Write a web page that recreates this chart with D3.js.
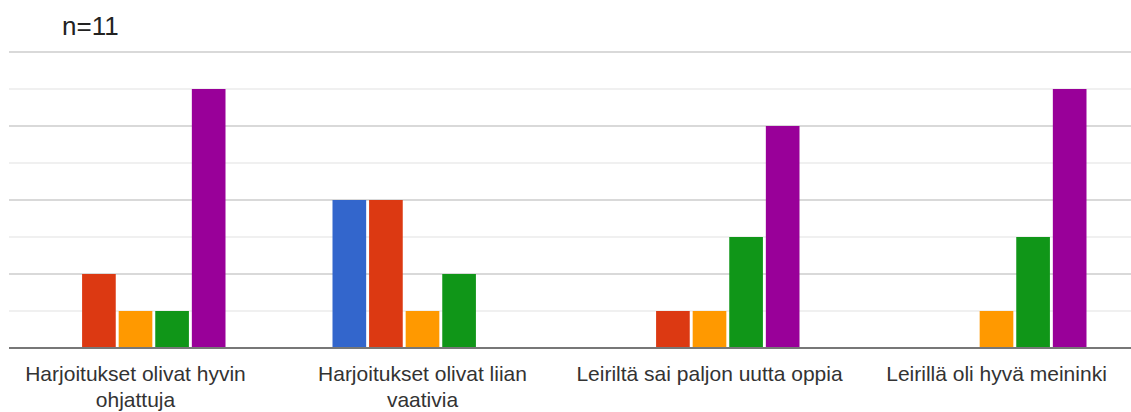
<!DOCTYPE html>
<html>
<head>
<meta charset="utf-8">
<script src="https://cdn.jsdelivr.net/npm/d3@7"></script>
<style>
  body { margin: 0; background: #fff; }
  svg { display: block; font-family: Arial, "Liberation Sans", sans-serif; }
</style>
</head>
<body>
<div id="chart"></div>
<script>
const categories = [
  ["Harjoitukset olivat hyvin", "ohjattuja"],
  ["Harjoitukset olivat liian", "vaativia"],
  ["Leiriltä sai paljon uutta oppia"],
  ["Leirillä oli hyvä meininki"],
];
const seriesNames = ["s1", "s2", "s3", "s4", "s5"];
const seriesColors = ["#3366cc", "#dc3912", "#ff9900", "#109618", "#990099"];
// values per category, in series order
const values = [
  [0, 2, 1, 1, 7],
  [4, 4, 1, 2, 0],
  [0, 1, 1, 3, 6],
  [0, 0, 1, 3, 7],
];
const gridTicks = [1, 2, 3, 4, 5, 6, 7, 8];
const title = "n=11";

const width = 1131;
const height = 412;
const baseline = 348;
const plotTop = 52;

const svg = d3.select("#chart").append("svg")
  .attr("width", width)
  .attr("height", height);

const y = d3.scaleLinear().domain([0, 8]).range([baseline, plotTop]);

const x0 = d3.scaleBand()
  .domain(d3.range(categories.length))
  .range([-8, 1140]);

const groupW = 180;
const x1 = d3.scaleBand()
  .domain(seriesNames)
  .range([(x0.bandwidth() - groupW) / 2, (x0.bandwidth() + groupW) / 2])
  .paddingInner(0.08);

// gridlines
svg.append("g")
  .selectAll("line")
  .data(gridTicks)
  .join("line")
  .attr("x1", 9)
  .attr("x2", width)
  .attr("y1", (d) => y(d))
  .attr("y2", (d) => y(d))
  .attr("stroke", (d) => (d % 2 === 0 ? "#cccccc" : "#ebebeb"))
  .attr("stroke-width", 1.5);

// bars
const groups = svg.append("g")
  .selectAll("g")
  .data(values)
  .join("g")
  .attr("transform", (_d, i) => `translate(${x0(i)},0)`);

groups.selectAll("rect")
  .data((d) => d.map((v, i) => ({ key: seriesNames[i], v, c: seriesColors[i] })))
  .join("rect")
  .attr("x", (d) => x1(d.key))
  .attr("width", x1.bandwidth())
  .attr("y", (d) => y(d.v))
  .attr("height", (d) => baseline - y(d.v))
  .attr("fill", (d) => d.c);

// baseline
svg.append("line")
  .attr("x1", 9)
  .attr("x2", width)
  .attr("y1", baseline)
  .attr("y2", baseline)
  .attr("stroke", "#777")
  .attr("stroke-width", 2);

// category labels
const labels = svg.append("g")
  .selectAll("text")
  .data(categories)
  .join("text")
  .attr("x", (_d, i) => x0(i) + x0.bandwidth() / 2)
  .attr("y", 381)
  .attr("text-anchor", "middle")
  .attr("font-size", 21)
  .attr("fill", "#333");

labels.selectAll("tspan")
  .data((d) => d)
  .join("tspan")
  .attr("x", function () { return d3.select(this.parentNode).attr("x"); })
  .attr("dy", (_d, i) => (i === 0 ? 0 : 26))
  .text((d) => d);

svg.append("text")
  .attr("x", 62)
  .attr("y", 35)
  .attr("font-size", 26)
  .attr("fill", "#222")
  .text(title);
</script>
</body>
</html>
